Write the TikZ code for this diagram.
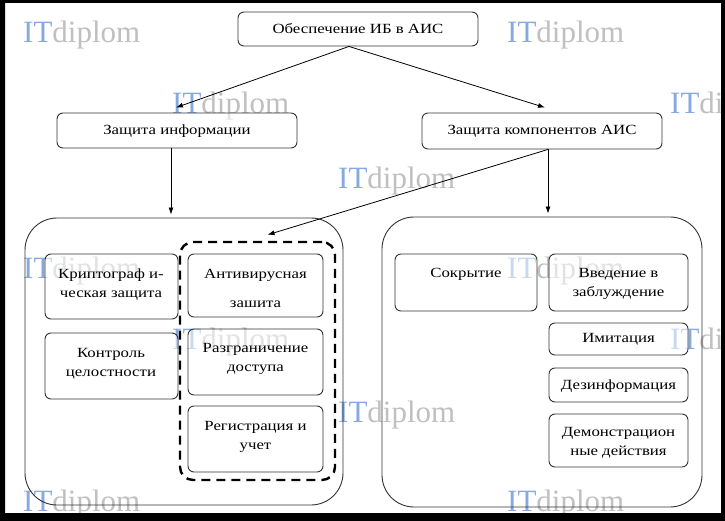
\documentclass[tikz,border=0pt]{standalone}
\usepackage{fontspec}
\setmainfont[FakeStretch=1.2]{Liberation Serif}
\newfontfamily\wmfont{Liberation Serif}
\usetikzlibrary{arrows.meta}
\definecolor{wmblue}{HTML}{86AADF}
\definecolor{wmgray}{HTML}{C0C0C0}
\definecolor{edgec}{HTML}{333333}
\tikzset{
 box/.style={draw=edgec, line width=0.9pt, rounded corners=6pt, inner sep=0pt, fill=white, fill opacity=0.55, draw opacity=1},
 bigbox/.style={draw=edgec, line width=0.9pt, rounded corners=32pt, inner sep=0pt},
 dashbox/.style={draw=black, line width=2.4pt, rounded corners=13pt, inner sep=0pt, dash pattern=on 9pt off 6pt},
 txt/.style={font=\fontsize{14}{19}\selectfont, align=center, inner sep=0pt, text=black},
 arr/.style={draw=black, line width=0.8pt, -{Latex[length=7pt,width=5pt]}},
 wm/.style={font=\wmfont\fontsize{31}{31}\selectfont, inner sep=0pt, anchor=base west},
}
\begin{document}
\begin{tikzpicture}[x=1pt,y=-1pt]
\useasboundingbox (0,0) rectangle (725,521);
\fill[white] (0,0) rectangle (725,521);
% watermarks (behind everything)
\foreach \wx/\wy [count=\i] in {23/43, 507/43, 172/114, 670/114, 338/189, 23/278, 507/278, 172/349, 670/349, 338/422, 23/511, 507/511}{
  \node[wm] (wm\i) at (\wx,\wy) {\textcolor{wmblue}{IT}\textcolor{wmgray}{diplom}};
}
% boxes
\node[box, minimum width=240pt, minimum height=34pt] (top) at (358,29) {};
\node[box, minimum width=240pt, minimum height=35pt] (info) at (177,130.5) {};
\node[box, minimum width=240pt, minimum height=36pt] (comp) at (542,131) {};
\node[bigbox, minimum width=318pt, minimum height=287pt] (bigL) at (184,361.5) {};
\node[bigbox, minimum width=320pt, minimum height=290pt] (bigR) at (542,362) {};
\node[dashbox, minimum width=155pt, minimum height=238pt] (dash) at (257.5,361) {};
\node[box, minimum width=133pt, minimum height=65pt] (krypto) at (111.5,286.5) {};
\node[box, minimum width=133pt, minimum height=66pt] (kontrol) at (111.5,366) {};
\node[box, minimum width=135pt, minimum height=63pt] (anti) at (255.5,285.5) {};
\node[box, minimum width=135pt, minimum height=66pt] (razgr) at (255.5,362) {};
\node[box, minimum width=135pt, minimum height=66pt] (reg) at (255.5,439) {};
\node[box, minimum width=142pt, minimum height=57pt] (sokr) at (466,282.5) {};
\node[box, minimum width=139pt, minimum height=57pt] (vved) at (618.5,282.5) {};
\node[box, minimum width=139pt, minimum height=32pt] (imit) at (618.5,339) {};
\node[box, minimum width=139pt, minimum height=34pt] (dezinf) at (618.5,385) {};
\node[box, minimum width=139pt, minimum height=53pt] (demo) at (618.5,440.5) {};
% texts
\node[txt] (ttop) at (358,29) {Обеспечение ИБ в АИС};
\node[txt] (tinfo) at (177,131) {Защита информации};
\node[txt] (tcomp) at (542,131) {Защита компонентов АИС};
\node[txt] (tkrypto) at (111,284.5) {Криптограф и-\\ческая защита};
\node[txt] (tkontrol) at (111,363.5) {Контроль\\целостности};
\node[txt] (tanti) at (255.5,288.5) {Антивирусная\\[10pt]зашита};
\node[txt] (trazgr) at (255.5,358.5) {Разграничение\\доступа};
\node[txt] (treg) at (255.5,436.5) {Регистрация и\\учет};
\node[txt] (tsokr) at (466,274) {Сокрытие};
\node[txt] (tvved) at (618.5,284) {Введение в\\заблуждение};
\node[txt] (timit) at (618.5,339) {Имитация};
\node[txt] (tdezinf) at (618.5,386) {Дезинформация};
\node[txt] (tdemo) at (618.5,443) {Демонстрацион\\ные действия};
% connectors
\coordinate (tops) at ([xshift=-9pt]top.south);
\coordinate (dtip) at ([xshift=10pt,yshift=6pt]dash.north);
\draw[arr] (tops) -- ([xshift=-1pt,yshift=5pt]info.north);
\draw[arr] (tops) -- ([xshift=3pt,yshift=5pt]comp.north);
\draw[arr, shorten >=3pt] ([xshift=-6pt]info.south) -- ([xshift=-6pt]info.south |- bigL.north);
\draw[arr, shorten >=3pt] ([xshift=6pt]comp.south) -- ([xshift=6pt]comp.south |- bigR.north);
\draw[arr] ([xshift=6pt]comp.south) -- (dtip);
% frame
\fill[black, even odd rule] (0,0) rectangle (725,521) (5,3) rectangle (721,513);
\end{tikzpicture}
\end{document}
